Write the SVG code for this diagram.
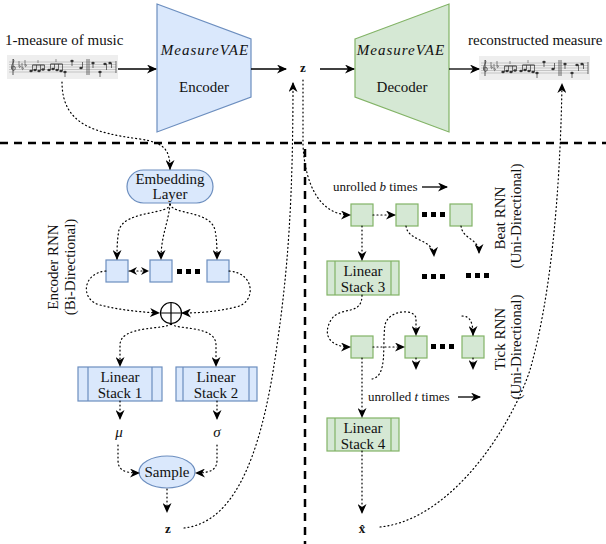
<svg xmlns="http://www.w3.org/2000/svg" xmlns:xlink="http://www.w3.org/1999/xlink" width="606" height="544" viewBox="0 0 606 544" font-family="'Liberation Serif', 'Times New Roman', serif">
<style>
text{font-family:"Liberation Serif","Times New Roman",serif;fill:#111;}
.lbl{font-size:15px;}
.mid{text-anchor:middle;}
.it{font-style:italic;}
.bold{font-weight:bold;}
.blue{fill:#dae8fc;stroke:#6c8ebf;stroke-width:1.2;}
.green{fill:#d5e8d4;stroke:#82b366;stroke-width:1.2;}
.solid{fill:none;stroke:#000;stroke-width:1.3;marker-end:url(#ah);}
.dot{fill:none;stroke:#000;stroke-width:1.2;stroke-dasharray:1 3;stroke-linecap:round;marker-end:url(#ah);}
.dotn{fill:none;stroke:#000;stroke-width:1.2;stroke-dasharray:1 3;stroke-linecap:round;}
.sep{fill:none;stroke:#000;stroke-width:2.5;stroke-dasharray:8 6;}
.sq{fill:#000;}
</style>
<defs>
<marker id="ah" markerUnits="userSpaceOnUse" markerWidth="11" markerHeight="9" refX="9" refY="4.5" orient="auto">
<path d="M0,0 L10,4.5 L0,9 L3,4.5 z" fill="#000"/>
</marker>
<marker id="ahs" markerUnits="userSpaceOnUse" markerWidth="9" markerHeight="8" refX="8" refY="4" orient="auto-start-reverse">
<path d="M0,0 L8,4 L0,8 L2.5,4 z" fill="#000"/>
</marker>
<g id="music">
<rect x="0" y="0" width="111" height="24" fill="#eeeeee"/>
<g stroke="#aaa" stroke-width="0.6">
<line x1="2" y1="7" x2="109" y2="7"/><line x1="2" y1="9.5" x2="109" y2="9.5"/><line x1="2" y1="12" x2="109" y2="12"/><line x1="2" y1="14.5" x2="109" y2="14.5"/><line x1="2" y1="17" x2="109" y2="17"/>
</g>
<path d="M6,4 C9,6 3,10 5,14 C6,17 9,15 8,12 C7,10 4,12 5,14 M6,4 L6,20" fill="none" stroke="#444" stroke-width="0.9"/>
<g fill="none" stroke="#555" stroke-width="0.7">
<path d="M12,6 L12,12 M12,11 C14,10 14,12 12,13"/>
<path d="M15,8 L15,14 M15,13 C17,12 17,14 15,15"/>
<path d="M18,5 L18,11 M18,10 C20,9 20,11 18,12"/>
</g>
<g fill="#333">
<ellipse cx="24" cy="16" rx="1.7" ry="1.2"/><ellipse cx="28" cy="15" rx="1.7" ry="1.2"/><ellipse cx="32" cy="16" rx="1.7" ry="1.2"/><ellipse cx="36" cy="14.5" rx="1.7" ry="1.2"/>
<ellipse cx="42" cy="15" rx="1.7" ry="1.2"/><ellipse cx="46" cy="14" rx="1.7" ry="1.2"/><ellipse cx="50" cy="15" rx="1.7" ry="1.2"/><ellipse cx="54" cy="16" rx="1.7" ry="1.2"/>
<ellipse cx="58" cy="17" rx="1.7" ry="1.2"/><ellipse cx="65" cy="6" rx="1.7" ry="1.2"/><ellipse cx="74" cy="13" rx="1.7" ry="1.2"/>
<ellipse cx="86" cy="8" rx="1.7" ry="1.2"/><ellipse cx="93" cy="17" rx="1.7" ry="1.2"/><ellipse cx="98" cy="9" rx="1.7" ry="1.2"/><ellipse cx="103" cy="8" rx="1.7" ry="1.2"/>
</g>
<g fill="none" stroke="#333" stroke-width="0.7">
<path d="M25.5,16 V10 M29.5,15 V10 M33.5,16 V10 M37.5,14.5 V10 M43.5,15 V9 M47.5,14 V9 M51.5,15 V9 M55.5,16 V9"/>
<path d="M25.5,10 H37.5 M43.5,9 H55.5" stroke-width="1.2"/>
<path d="M31,8 L31,5 M49,7 L49,4" stroke-width="0.5"/>
<path d="M58,17 V22 M65,6 V11 M75.5,13 V7 M86,8 V13 M93,17 V22 M99.5,9 V15 M104.5,8 V13"/>
<path d="M80,4 V20 M82,4 V20 M109,6 V18"/>
</g>
</g>
</defs>
<rect width="606" height="544" fill="#fff"/>

<g id="separators">
<line class="sep" x1="0" y1="143" x2="606" y2="143"/>
<line class="sep" x1="305" y1="149" x2="305" y2="544"/>
</g>

<g id="input-music">
<text class="lbl" x="5" y="45">1-measure of music</text>
<use xlink:href="#music" x="7" y="55"/>
</g>
<g id="output-music">
<text class="lbl" x="468" y="45">reconstructed measure</text>
<use xlink:href="#music" x="479" y="56"/>
</g>

<g id="encoder">
<path class="blue" d="M157,4 L251,39 L251,97 L157,132 Z"/>
<text class="lbl it mid" x="205" y="55" letter-spacing="1">MeasureVAE</text>
<text class="lbl mid" x="204" y="92">Encoder</text>
</g>
<g id="decoder">
<path class="green" d="M355,39 L449,4 L449,132 L355,97 Z"/>
<text class="lbl it mid" x="401" y="55" letter-spacing="1">MeasureVAE</text>
<text class="lbl mid" x="402" y="92">Decoder</text>
</g>
<g id="z-top"><text class="mid bold" x="303" y="72" font-size="13">z</text></g>

<g id="embedding">
<rect class="blue" x="127" y="170" width="86" height="33" rx="16.5"/>
<text class="lbl mid" x="170" y="184">Embedding</text>
<text class="lbl mid" x="170" y="199">Layer</text>
</g>
<g id="enc-rnn">
<rect class="blue" x="106" y="260" width="22" height="22"/>
<rect class="blue" x="150" y="260" width="22" height="22"/>
<rect class="blue" x="207" y="260" width="22" height="22"/>
<rect class="sq" x="177" y="269" width="5" height="5"/><rect class="sq" x="186" y="269" width="5" height="5"/><rect class="sq" x="195" y="269" width="5" height="5"/>
<text class="lbl mid" transform="translate(58,267) rotate(-90)" x="0" y="0">Encoder RNN</text>
<text class="lbl mid" transform="translate(75,267) rotate(-90)" x="0" y="0">(Bi-Directional)</text>
</g>
<g id="oplus">
<circle cx="171" cy="313" r="10.5" fill="#fff" stroke="#000" stroke-width="1.2"/>
<path d="M160.5,313 H181.5 M171,302.5 V323.5" stroke="#000" stroke-width="1.2"/>
</g>
<g id="linear1">
<rect class="blue" x="78" y="367" width="84" height="34"/>
<path d="M88,367 V401 M152,367 V401" stroke="#6c8ebf" stroke-width="1.2"/>
<text class="lbl mid" x="120" y="382">Linear</text>
<text class="lbl mid" x="120" y="398">Stack 1</text>
</g>
<g id="linear2">
<rect class="blue" x="176" y="367" width="81" height="34"/>
<path d="M183,367 V401 M249,367 V401" stroke="#6c8ebf" stroke-width="1.2"/>
<text class="lbl mid" x="216" y="382">Linear</text>
<text class="lbl mid" x="216" y="398">Stack 2</text>
</g>
<g id="mu"><text class="lbl it mid" x="119" y="437">μ</text></g>
<g id="sigma"><text class="lbl it mid" x="217" y="437">σ</text></g>
<g id="sample">
<ellipse class="blue" cx="167" cy="472" rx="28" ry="16"/>
<text class="lbl mid" x="167" y="477">Sample</text>
</g>
<g id="z-bottom"><text class="mid bold" x="168" y="533" font-size="13">z</text></g>

<g id="beat-rnn">
<text font-size="13" x="333" y="191">unrolled <tspan font-style="italic">b</tspan> times</text>
<rect class="green" x="351" y="204" width="22" height="22"/>
<rect class="green" x="396" y="204" width="22" height="22"/>
<rect class="green" x="450" y="204" width="22" height="22"/>
<rect class="sq" x="422" y="212" width="5" height="5"/><rect class="sq" x="431" y="212" width="5" height="5"/><rect class="sq" x="440" y="212" width="5" height="5"/>
<rect class="sq" x="422" y="274" width="5" height="5"/><rect class="sq" x="431" y="274" width="5" height="5"/><rect class="sq" x="440" y="274" width="5" height="5"/>
<rect class="sq" x="466" y="273" width="5" height="5"/><rect class="sq" x="475" y="273" width="5" height="5"/><rect class="sq" x="484" y="273" width="5" height="5"/>
<text class="lbl mid" transform="translate(505,218) rotate(-90)">Beat RNN</text>
<text class="lbl mid" transform="translate(521,216) rotate(-90)">(Uni-Directional)</text>
</g>
<g id="linear3">
<rect class="green" x="327" y="261" width="72" height="34"/>
<path d="M335,261 V295 M391,261 V295" stroke="#82b366" stroke-width="1.2"/>
<text class="lbl mid" x="363" y="276">Linear</text>
<text class="lbl mid" x="363" y="292">Stack 3</text>
</g>
<g id="tick-rnn">
<rect class="green" x="351" y="336" width="22" height="22"/>
<rect class="green" x="405" y="336" width="22" height="22"/>
<rect class="green" x="462" y="336" width="22" height="22"/>
<rect class="sq" x="431" y="344" width="5" height="5"/><rect class="sq" x="440" y="344" width="5" height="5"/><rect class="sq" x="449" y="344" width="5" height="5"/>
<text font-size="13" x="368" y="401">unrolled <tspan font-style="italic">t</tspan> times</text>
<text class="lbl mid" transform="translate(505,339) rotate(-90)">Tick RNN</text>
<text class="lbl mid" transform="translate(521,347) rotate(-90)">(Uni-Directional)</text>
</g>
<g id="linear4">
<rect class="green" x="327" y="418" width="72" height="33"/>
<path d="M335,418 V451 M391,418 V451" stroke="#82b366" stroke-width="1.2"/>
<text class="lbl mid" x="363" y="433">Linear</text>
<text class="lbl mid" x="363" y="449">Stack 4</text>
</g>
<g id="xhat"><text class="mid bold" x="362" y="533" font-size="13">x̂</text></g>

<g id="connectors">
<path class="solid" d="M118,69 L156,69"/>
<path class="solid" d="M251,69 L286,69"/>
<path class="solid" d="M320,69 L354,69"/>
<path class="solid" d="M449,69 L479,69"/>
<path class="solid" d="M422,187 L447,187"/>
<path class="solid" d="M458,397 L480,397"/>

<path class="dot" d="M62,82 C62,125 95,133 140,139 C165,143 170,150 170,169"/>
<path class="dot" d="M170,204 C170,215 125,210 119,230 C117,240 117,250 117,259"/>
<path class="dot" d="M170,204 C168,225 161,235 161,259"/>
<path class="dot" d="M170,204 C172,215 210,210 215,230 C217,240 217,250 217,259"/>
<path class="dotn" d="M129,271 L149,271" style="marker-start:url(#ahs);marker-end:url(#ahs)"/>
<path class="dot" d="M106,271 C82,273 80,300 100,305 C120,310 140,312 159,313"/>
<path class="dot" d="M229,271 C256,273 256,303 236,307 C215,312 198,313 182,313"/>
<path class="dot" d="M171,324 C165,330 120,325 120,345 L120,366"/>
<path class="dot" d="M171,324 C177,330 216,325 216,345 L216,366"/>
<path class="dot" d="M120,401 L120,419"/>
<path class="dot" d="M217,401 L217,419"/>
<path class="dot" d="M118,445 L118,460 C118,470 124,473 139,473"/>
<path class="dot" d="M217,445 L217,460 C217,470 210,473 196,473"/>
<path class="dot" d="M167,489 L167,512"/>
<path class="dot" d="M184,528 C240,522 264,440 277,345 C288,270 293,200 293,83"/>

<path class="dot" d="M303,80 L303,145 C305,185 320,215 350,215"/>
<path class="dot" d="M373,215 L395,215"/>
<path class="dot" d="M362,226 L362,260"/>
<path class="dot" d="M406,226 C408,242 433,238 434,256"/>
<path class="dot" d="M461,226 C463,240 479,238 479,253"/>
<path class="dot" d="M362,295 C362,317 340,305 331,320 C322,335 330,347 350,347"/>
<path class="dot" d="M373,347 L404,347"/>
<path class="dot" d="M372,379 C388,376 382,345 385,325 C388,310 414,308 416,318 L416,335"/>
<path class="dot" d="M462,316 C470,316 473,322 473,335"/>
<path class="dot" d="M416,358 L416,369"/>
<path class="dot" d="M473,358 L473,369"/>
<path class="dot" d="M362,358 L362,417"/>
<path class="dot" d="M362,451 L362,513"/>
<path class="dot" d="M380,527 C450,520 510,430 530,370 C550,300 560,200 562,84"/>
</g>
</svg>
